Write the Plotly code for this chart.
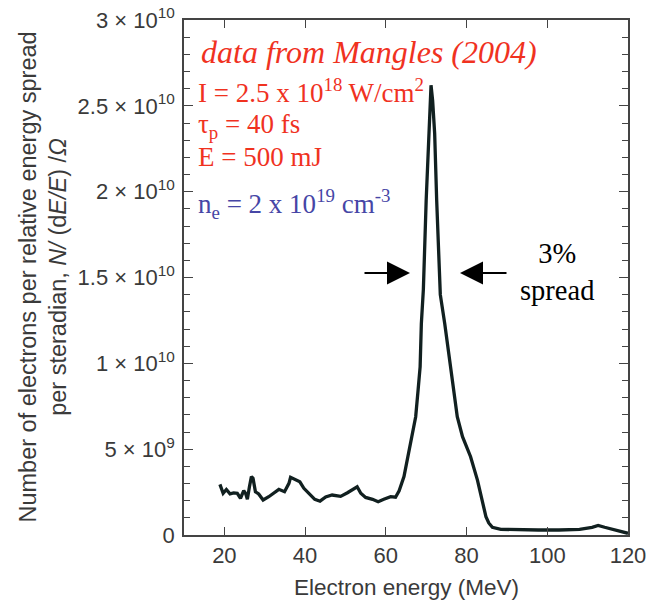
import plotly.graph_objects as go

# Electron spectrum (Mangles et al. 2004)
energy_mev = [
    18.9, 19.7, 20.5, 21.4, 22.3, 23.2, 24.0, 24.8, 25.3, 25.7,
    26.2, 26.7, 27.1, 27.4, 27.7, 28.5, 29.6, 31.0, 32.2, 33.5,
    34.9, 36.0, 36.4, 37.4, 38.7, 39.7, 40.5, 41.4, 42.4, 43.7,
    45.1, 46.7, 48.8, 50.5, 52.1, 52.9, 53.8, 55.0, 56.7, 58.1,
    59.5, 61.2, 62.4, 63.3, 64.5, 65.5, 66.2, 67.4, 68.0, 68.5,
    68.8, 69.3, 70.0, 70.6, 70.9, 71.2, 71.6, 72.1, 72.6, 73.5,
    74.6, 75.7, 76.7, 77.7, 79.0, 81.0, 82.7, 83.9, 84.8, 85.5,
    86.4, 88.5, 92.7, 97.8, 102.9, 108.0, 111.1, 112.6, 114.2, 116.2,
    118.8, 120.0,
]
electrons_per_sr = [
    2.95e9, 2.43e9, 2.65e9, 2.40e9, 2.45e9, 2.43e9, 2.14e9, 2.58e9, 2.40e9, 2.08e9,
    2.80e9, 3.40e9, 3.30e9, 2.90e9, 2.52e9, 2.39e9, 2.04e9, 2.23e9, 2.46e9, 2.66e9,
    2.52e9, 3.01e9, 3.36e9, 3.24e9, 3.10e9, 2.72e9, 2.52e9, 2.33e9, 2.08e9, 1.97e9,
    2.22e9, 2.33e9, 2.25e9, 2.46e9, 2.72e9, 2.81e9, 2.43e9, 2.19e9, 2.08e9, 1.94e9,
    2.08e9, 2.23e9, 2.20e9, 2.57e9, 3.40e9, 4.56e9, 5.53e9, 6.89e9, 8.45e9, 9.8e9,
    1.23e10, 1.43e10, 1.95e10, 2.34e10, 2.53e10, 2.62e10, 2.53e10, 2.34e10, 1.95e10, 1.40e10,
    1.23e10, 1.04e10, 8.45e9, 6.89e9, 5.73e9, 4.56e9, 3.20e9, 2.04e9, 1.07e9, 0.70e9,
    0.45e9, 0.33e9, 0.29e9, 0.29e9, 0.29e9, 0.33e9, 0.45e9, 0.56e9, 0.45e9, 0.33e9,
    0.19e9, 0.10e9,
]

y_tick_values = [0, 5e9, 1e10, 1.5e10, 2e10, 2.5e10, 3e10]
y_tick_labels = [
    "0", "5 × 10<sup>9</sup>", "1 × 10<sup>10</sup>", "1.5 × 10<sup>10</sup>",
    "2 × 10<sup>10</sup>", "2.5 × 10<sup>10</sup>", "3 × 10<sup>10</sup>",
]
x_tick_values = [20, 40, 60, 80, 100, 120]

SANS = "Liberation Sans, Arial, sans-serif"
SERIF = "Liberation Serif, Times New Roman, serif"
GREY = "#3a3a3a"
RED = "#f0321f"
BLUE = "#4646a6"

# plot area in pixels
L, R, T, B = 184, 21, 20, 66
W, H = 649, 601
PW, PH = W - L - R, H - T - B


def px(x):
    return (x - L) / PW


def py(y):
    return (H - B - y) / PH


fig = go.Figure()
fig.add_trace(go.Scatter(
    x=energy_mev, y=electrons_per_sr, mode="lines",
    line=dict(color="#112020", width=3.3, shape="linear"),
    showlegend=False, hoverinfo="skip",
))

axis_common = dict(
    showline=True, linecolor="#444444", linewidth=1.5, mirror="ticks",
    ticks="inside", tickcolor="#444444", tickwidth=1.3,
    showgrid=False, zeroline=False,
    tickfont=dict(family=SANS, size=22, color=GREY),
)

fig.update_xaxes(
    range=[10, 120], tickvals=x_tick_values, ticklen=8, **axis_common,
)
fig.update_yaxes(
    range=[0, 3e10], tickvals=y_tick_values, ticktext=y_tick_labels, ticklen=9,
    ticklabelstandoff=3,
    minor=dict(dtick=1e9, ticks="inside", ticklen=6, tickcolor="#444444", tickwidth=1.2),
    **axis_common,
)

annotations = [
    # axis titles
    dict(x=px(406), y=py(587), text="Electron energy (MeV)",
         font=dict(family=SANS, size=22.5, color=GREY)),
    dict(x=px(43), y=0.5, textangle=-90,
         text="Number of electrons per relative energy spread<br>"
              "per steradian, <i>N/</i> (d<i>E/E</i>) /<i>Ω</i>",
         font=dict(family=SANS, size=23.5, color=GREY)),
    # experiment parameters
    dict(x=px(199), y=py(52), xanchor="left",
         text="<i>data from Mangles (2004)</i>",
         font=dict(family=SERIF, size=32, color=RED)),
    dict(x=px(196), y=py(91), xanchor="left",
         text="I = 2.5 x 10<sup>18</sup> W/cm<sup>2</sup>",
         font=dict(family=SERIF, size=27, color=RED)),
    dict(x=px(196), y=py(126), xanchor="left",
         text="τ<sub>p</sub> = 40 fs",
         font=dict(family=SERIF, size=27, color=RED)),
    dict(x=px(196), y=py(157), xanchor="left",
         text="E = 500 mJ",
         font=dict(family=SERIF, size=27, color=RED)),
    dict(x=px(196), y=py(204), xanchor="left",
         text="n<sub>e</sub> = 2 x 10<sup>19</sup> cm<sup>-3</sup>",
         font=dict(family=SERIF, size=27, color=BLUE)),
    dict(x=px(557), y=py(272), text="3%<br>spread",
         font=dict(family=SERIF, size=28.5, color="black")),
]
for a in annotations:
    a.setdefault("xref", "paper")
    a.setdefault("yref", "paper")
    a.setdefault("showarrow", False)
    a.setdefault("xanchor", "center")
    a.setdefault("yanchor", "middle")
    fig.add_annotation(**a)

# arrows marking the width of the peak
for tip, tail in [(410, 363), (460, 508)]:
    fig.add_annotation(
        x=px(tip), y=py(273), xref="paper", yref="paper", text="",
        showarrow=True, ax=tail - tip, ay=0, arrowhead=2, arrowsize=2.3,
        arrowwidth=2, arrowcolor="black", standoff=0,
    )

fig.update_layout(
    width=W, height=H,
    margin=dict(l=L, r=R, t=T, b=B, autoexpand=False),
    paper_bgcolor="white", plot_bgcolor="white",
    showlegend=False,
)

fig.write_html("out.html")
